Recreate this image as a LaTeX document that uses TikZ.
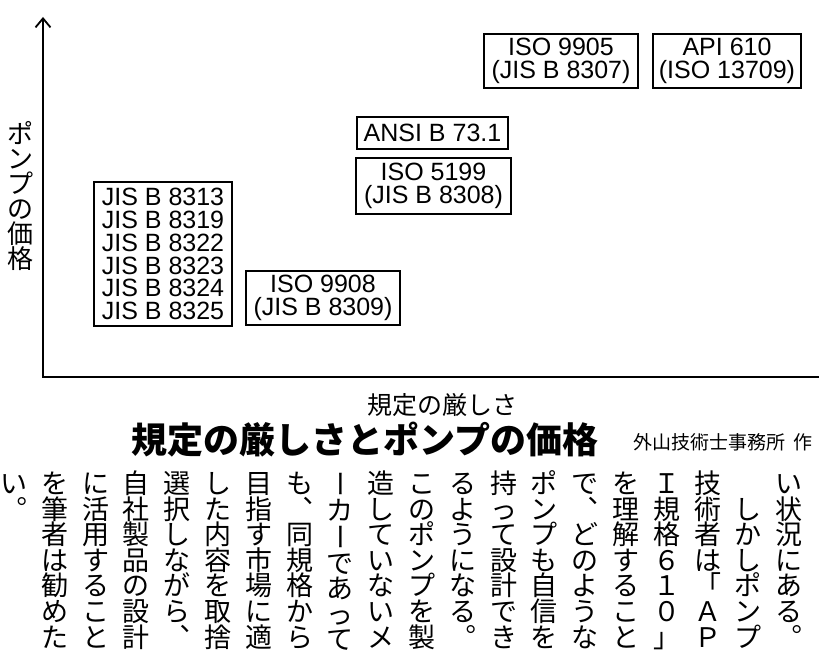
\documentclass[tikz,border=0pt]{standalone}
\usepackage{graphicx}
\usepackage{fontspec}
\setmainfont{Liberation Sans}
\newfontfamily\jp{Noto Sans CJK JP}
\usetikzlibrary{arrows.meta}
\newdimen\rowh \newdimen\rowd \newdimen\cellw
\makeatletter
\def\vcolx#1{\ifx\relax#1\else\hbox to\cellw{\vrule height\rowh depth\rowd width\z@\hss#1\hss}\expandafter\vcolx\fi}
\makeatother
\newcommand\vcol[3]{\begingroup\jp\fontsize{#1}{#1}\selectfont\cellw=1em\relax
  \rowh=\dimexpr#2/2+0.38em\relax\rowd=\dimexpr#2/2-0.38em\relax
  \vbox{\offinterlineskip\vcolx#3\relax}\endgroup}
\newcommand\KU{︒}
\newcommand\TEN{︑}
\newcommand\CHO{\rotatebox[origin=c]{-90}{\raisebox{0pt}[0.88em][0.12em]{ー}}}
\newcommand\ZS{\hbox to 1em{}}
\begin{document}
\begin{tikzpicture}[x=1pt,y=-1pt,
  box/.style={draw, line width=1.3pt, inner sep=0pt, align=center,
    font=\fontsize{25}{22.8}\selectfont},
  axis/.style={line width=1.8pt, line join=miter},
  col/.style={inner sep=0pt, anchor=north},
  jptext/.style={inner sep=0pt}]
\useasboundingbox (0,0) rectangle (819,658);

% axes
\coordinate (ytop) at (43,17);
\coordinate (O) at (43,377);
\coordinate (xend) at (830,377);
\draw[axis, {Straight Barb[length=9pt,width=15pt]}-] (ytop) -- (O) -- (xend);

% axis labels
\node[col] (ylab) at (20,121) {\vcol{26}{25pt}{ポンプの価格}};
\node[jptext, font=\jp\fontsize{25}{25}\selectfont] (xlab) at (442,405) {規定の厳しさ};

% standard boxes
\node[box, minimum width=154pt, minimum height=54pt] (iso9905) at (561,61) {ISO 9905\\(JIS B 8307)};
\node[box, minimum width=148pt, minimum height=54pt] (api610) at (727,61) {API 610\\(ISO 13709)};
\node[box, minimum width=151pt, minimum height=32pt] (ansi) at (432.5,133) {ANSI B 73.1};
\node[box, minimum width=155pt, minimum height=56pt] (iso5199) at (433.5,186) {ISO 5199\\(JIS B 8308)};
\node[box, minimum width=138pt, minimum height=144pt] (jis) at (163,254) {JIS B 8313\\JIS B 8319\\JIS B 8322\\JIS B 8323\\JIS B 8324\\JIS B 8325};
\node[box, minimum width=154pt, minimum height=54pt] (iso9908) at (323,298) {ISO 9908\\(JIS B 8309)};

% caption
\node[jptext, font=\jp\bfseries\fontsize{36}{36}\selectfont] (title) at (365,440) {規定の厳しさとポンプの価格};
\node[jptext, anchor=west, font=\jp\fontsize{19}{19}\selectfont] (credit) at (633,442) {外山技術士事務所\hspace{8pt}作};

% vertical body text (columns, left to right)
\node[col] (c0) at (14,470.2) {\vcol{27}{25.6pt}{い\KU}};
\node[col] (c1) at (54.8,470.2) {\vcol{27}{25.6pt}{を筆者は勧めた}};
\node[col] (c2) at (95.6,470.2) {\vcol{27}{25.6pt}{に活用すること}};
\node[col] (c3) at (136.4,470.2) {\vcol{27}{25.6pt}{自社製品の設計}};
\node[col] (c4) at (177.2,470.2) {\vcol{27}{25.6pt}{選択しながら\TEN}};
\node[col] (c5) at (218,470.2) {\vcol{27}{25.6pt}{した内容を取捨}};
\node[col] (c6) at (258.8,470.2) {\vcol{27}{25.6pt}{目指す市場に適}};
\node[col] (c7) at (299.6,470.2) {\vcol{27}{25.6pt}{も\TEN 同規格から}};
\node[col] (c8) at (340.4,470.2) {\vcol{27}{25.6pt}{\CHO カ\CHO であって}};
\node[col] (c9) at (381.2,470.2) {\vcol{27}{25.6pt}{造していないメ}};
\node[col] (c10) at (422,470.2) {\vcol{27}{25.6pt}{このポンプを製}};
\node[col] (c11) at (462.8,470.2) {\vcol{27}{25.6pt}{るようになる\KU}};
\node[col] (c12) at (503.6,470.2) {\vcol{27}{25.6pt}{持って設計でき}};
\node[col] (c13) at (544.4,470.2) {\vcol{27}{25.6pt}{ポンプも自信を}};
\node[col] (c14) at (585.2,470.2) {\vcol{27}{25.6pt}{で\TEN どのような}};
\node[col] (c15) at (626,470.2) {\vcol{27}{25.6pt}{を理解すること}};
\node[col] (c16) at (666.8,470.2) {\vcol{27}{25.6pt}{Ｉ規格６１０」}};
\node[col] (c17) at (707.6,470.2) {\vcol{27}{25.6pt}{技術者は「ＡＰ}};
\node[col] (c18) at (748.4,470.2) {\vcol{27}{25.6pt}{\ZS しかしポンプ}};
\node[col] (c19) at (789.2,470.2) {\vcol{27}{25.6pt}{い状況にある\KU}};
\end{tikzpicture}
\end{document}
